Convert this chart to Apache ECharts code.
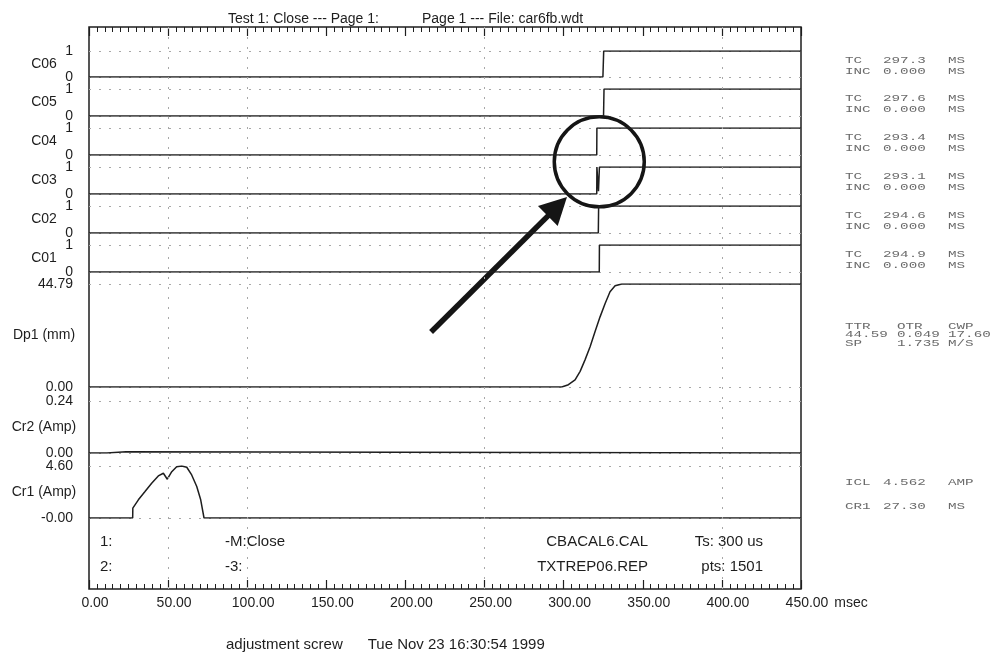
<!DOCTYPE html>
<html><head><meta charset="utf-8">
<script src="https://cdn.jsdelivr.net/npm/echarts@6/dist/echarts.min.js"></script>
<style>html,body{margin:0;padding:0;background:#fff}#c{width:991px;height:654px}</style>
</head><body><div id="c"></div>
<script>
// ---------- data ----------
const xMin = 0, xMax = 450, xStep = 50;
const gridTimes = [50, 100, 250, 400];

const channelNames = ['C06', 'C05', 'C04', 'C03', 'C02', 'C01'];
const c06Time = [0, 324.8, 325.3, 450];
const c06Val  = [0, 0, 1, 1];
const c05Time = [0, 325.2, 325.5, 450];
const c05Val  = [0, 0, 1, 1];
const c04Time = [0, 320.9, 321.0, 450];
const c04Val  = [0, 0, 1, 1];
const c03Time = [0, 320.9, 321.0, 321.6, 322.0, 322.6, 450];
const c03Val  = [0, 0, 1, 1, 0.1, 1, 1];
const c02Time = [0, 321.9, 322.1, 450];
const c02Val  = [0, 0, 1, 1];
const c01Time = [0, 322.5, 322.6, 450];
const c01Val  = [0, 0, 1, 1];

const dp1Time = [0, 298.8, 303.0, 307.2, 310.4, 313.5, 316.7, 319.8, 323.0, 326.2, 329.3, 332.5, 336.7, 450];
const dp1Val  = [0, 0, 1.0, 3.1, 6.8, 11.8, 17.5, 24.0, 30.5, 36.3, 41.4, 44.0, 44.79, 44.79];
const cr2Time = [0, 11.3, 11.4, 23.4, 23.5, 450];
const cr2Val  = [0, 0, 0.006, 0.006, 0, 0];
const cr1Time = [0, 27.6, 27.7, 31.2, 35.4, 39.6, 43.8, 47.0, 49.5, 52.3, 55.4, 58.6, 61.8, 64.9, 68.1, 70.6, 72.7, 450];
const cr1Val  = [0, 0, 0.88, 1.61, 2.34, 3.08, 3.72, 3.96, 3.43, 4.10, 4.54, 4.60, 4.49, 3.81, 2.78, 1.61, 0, 0];

const analogNames = ['Dp1 (mm)', 'Cr2 (Amp)', 'Cr1 (Amp)'];
const analogMax = [44.79, 0.24, 4.60];
const analogMinLabel = ['0.00', '0.00', '-0.00'];

const tcValues  = ['297.3', '297.6', '293.4', '293.1', '294.6', '294.9'];
const incValues = ['0.000', '0.000', '0.000', '0.000', '0.000', '0.000'];
const ttrRows = [['TTR', 'OTR', 'CWP'], ['44.59', '0.049', '17.60'], ['SP', '1.735', 'M/S']];
const iclRows = [['ICL', '4.562', 'AMP'], ['CR1', '27.30', 'MS']];
const boxLeft  = [['1:', '-M:Close'], ['2:', '-3:']];
const boxRight = [['CBACAL6.CAL', 'Ts: 300 us'], ['TXTREP06.REP', 'pts: 1501']];
const titleParts = ['Test 1: Close --- Page 1:', 'Page 1 --- File: car6fb.wdt'];
const footer = 'adjustment screw      Tue Nov 23 16:30:54 1999';

// ---------- layout ----------
const L = 89, W = 712;
const frame = {top: 27, height: 562};
const panelLayout = [
  [51, 26], [89, 27], [128, 27], [167, 27], [206, 27], [245, 27],
  [284, 103], [401, 52], [466, 52]
];
const nameShift = [0, 0, 0, 0, 0, 0, 7, 2, 0];

const chanTimes = [c06Time, c05Time, c04Time, c03Time, c02Time, c01Time];
const chanVals  = [c06Val, c05Val, c04Val, c03Val, c02Val, c01Val];
const anaTimes = [dp1Time, cr2Time, cr1Time];
const anaVals  = [dp1Val, cr2Val, cr1Val];

const ink = '#1e1e1e';
const font = 'Liberation Sans, Arial, sans-serif';
const mono = 'Liberation Mono, Courier New, monospace';
const dotted = {color: '#a8a8a8', type: [2, 8], width: 1};

const grids = [{left: L, width: W, top: frame.top, height: frame.height, show: true, outerBoundsMode: 'none',
                borderColor: ink, borderWidth: 1.5, backgroundColor: 'transparent'}];
const xAxes = [
  {gridIndex: 0, type: 'value', min: xMin, max: xMax, interval: xStep, position: 'bottom',
   axisLine: {show: false},
   axisTick: {show: true, inside: true, length: 9, lineStyle: {color: ink, width: 1.2}},
   minorTick: {show: true, splitNumber: 10, length: 5, lineStyle: {color: ink, width: 1}},
   splitLine: {show: false},
   axisLabel: {formatter: v => v.toFixed(2), color: ink, fontSize: 14, fontFamily: font, margin: 7, padding: [0, 0, 0, 12]},
   name: 'msec', nameLocation: 'end', nameGap: 29,
   nameTextStyle: {color: ink, fontSize: 14, fontFamily: font, verticalAlign: 'top', lineHeight: 28}},
  {gridIndex: 0, type: 'value', min: xMin, max: xMax, interval: xStep, position: 'top',
   axisLine: {show: false},
   axisTick: {show: true, inside: true, length: 9, lineStyle: {color: ink, width: 1.2}},
   minorTick: {show: true, splitNumber: 10, length: 5, lineStyle: {color: ink, width: 1}},
   splitLine: {show: false}, axisLabel: {show: false}}
];
const yAxes = [{gridIndex: 0, type: 'value', min: 0, max: 1, show: false}];
const series = [{
  type: 'line', xAxisIndex: 0, yAxisIndex: 0, data: [], silent: true,
  markLine: {silent: true, symbol: 'none', label: {show: false}, lineStyle: dotted,
    data: gridTimes.map(t => ({xAxis: t}))}
}];

function addPanel(k, name, max, minLabel, maxLabel, times, vals) {
  const [top, h] = panelLayout[k];
  const gi = grids.length;
  grids.push({left: L, width: W, top: top, height: h, outerBoundsMode: 'none'});
  xAxes.push({gridIndex: gi, type: 'value', min: xMin, max: xMax, show: false});
  yAxes.push({gridIndex: gi, type: 'value', min: 0, max: max, interval: max,
    axisLine: {show: false}, axisTick: {show: false},
    axisLabel: {color: ink, fontSize: 14, fontFamily: font, margin: 16,
      formatter: v => (v === 0 ? minLabel : maxLabel)},
    splitLine: {show: true, lineStyle: dotted},
    name: name, nameLocation: 'middle', nameGap: 45, nameRotate: 0, nameMoveOverlap: false,
    nameTextStyle: {color: ink, fontSize: 14, fontFamily: font, align: 'center', verticalAlign: 'middle',
      padding: [nameShift[k], 0, 0, 0]}});
  series.push({type: 'line', xAxisIndex: xAxes.length - 1, yAxisIndex: yAxes.length - 1,
    data: times.map((t, i) => [t, vals[i]]), symbol: 'none', silent: true,
    lineStyle: {color: ink, width: 1.5}});
}
channelNames.forEach((n, i) => addPanel(i, n, 1, '0', '1', chanTimes[i], chanVals[i]));
analogNames.forEach((n, i) => addPanel(6 + i, n, analogMax[i], analogMinLabel[i], analogMax[i].toFixed(2), anaTimes[i], anaVals[i]));

const chart = echarts.init(document.getElementById('c'));
chart.setOption({
  animation: false,
  backgroundColor: '#fff',
  title: [
    {text: titleParts[0], left: 228, top: 12, padding: 0, textStyle: {color: ink, fontSize: 14, fontWeight: 'normal', fontFamily: font}},
    {text: titleParts[1], left: 422, top: 12, padding: 0, textStyle: {color: ink, fontSize: 14, fontWeight: 'normal', fontFamily: font}}
  ],
  grid: grids, xAxis: xAxes, yAxis: yAxes, series: series
});

// ---------- annotations & side texts ----------
const g = [];
const txt = (x, y, text, style = {}, el = {}) => g.push(Object.assign({type: 'text', x: x, y: y, silent: true,
  style: Object.assign({text: text, fill: ink, font: '15px ' + font, textVerticalAlign: 'middle'}, style)}, el));

boxLeft.forEach((row, r) => { txt(100, 542 + r * 25, row[0]); txt(225, 542 + r * 25, row[1]); });
boxRight.forEach((row, r) => {
  txt(648, 542 + r * 25, row[0], {textAlign: 'right'});
  txt(763, 542 + r * 25, row[1], {textAlign: 'right'});
});
txt(226, 645, footer);

const monoStyle = {font: '9.5px ' + mono, fill: '#6a6a6a'};
const stretch = {scaleX: 1.5};
const monoRow = (y, cols, xs) => cols.forEach((c, j) => txt(xs[j], y, c, monoStyle, stretch));
const colsA = [845, 883, 948], colsB = [845, 897, 948];
channelNames.forEach((n, i) => {
  const mid = panelLayout[i][0] + panelLayout[i][1] / 2;
  monoRow(mid - 4, ['TC', tcValues[i], 'MS'], colsA);
  monoRow(mid + 7, ['INC', incValues[i], 'MS'], colsA);
});
ttrRows.forEach((r, i) => monoRow(326 + i * 8.5, r, colsB));
iclRows.forEach((r, i) => monoRow(482 + i * 24, r, colsA));

// circle & arrow anchored to data coordinates
const c03Grid = 4, dpGrid = 7;
const ctr = chart.convertToPixel({gridIndex: c03Grid}, [322.5, 1.19]);
g.push({type: 'circle', shape: {cx: ctr[0], cy: ctr[1], r: 45}, silent: true,
  style: {fill: 'none', stroke: '#151515', lineWidth: 3.5}});
const tail = chart.convertToPixel({gridIndex: dpGrid}, [216.2, 23.9]);
const tip = chart.convertToPixel({gridIndex: c03Grid}, [302.1, -0.11]);
const dx = tip[0] - tail[0], dy = tip[1] - tail[1], len = Math.hypot(dx, dy);
const ux = dx / len, uy = dy / len, hl = 27, hw = 14;
const bx = tip[0] - ux * hl, by = tip[1] - uy * hl;
g.push({type: 'line', silent: true, shape: {x1: tail[0], y1: tail[1], x2: bx + ux * 2, y2: by + uy * 2},
  style: {stroke: '#151515', lineWidth: 5.5}});
g.push({type: 'polygon', silent: true, shape: {points: [tip, [bx - uy * hw, by + ux * hw], [bx + uy * hw, by - ux * hw]]},
  style: {fill: '#151515'}});

chart.setOption({graphic: {elements: g}});
</script></body></html>
